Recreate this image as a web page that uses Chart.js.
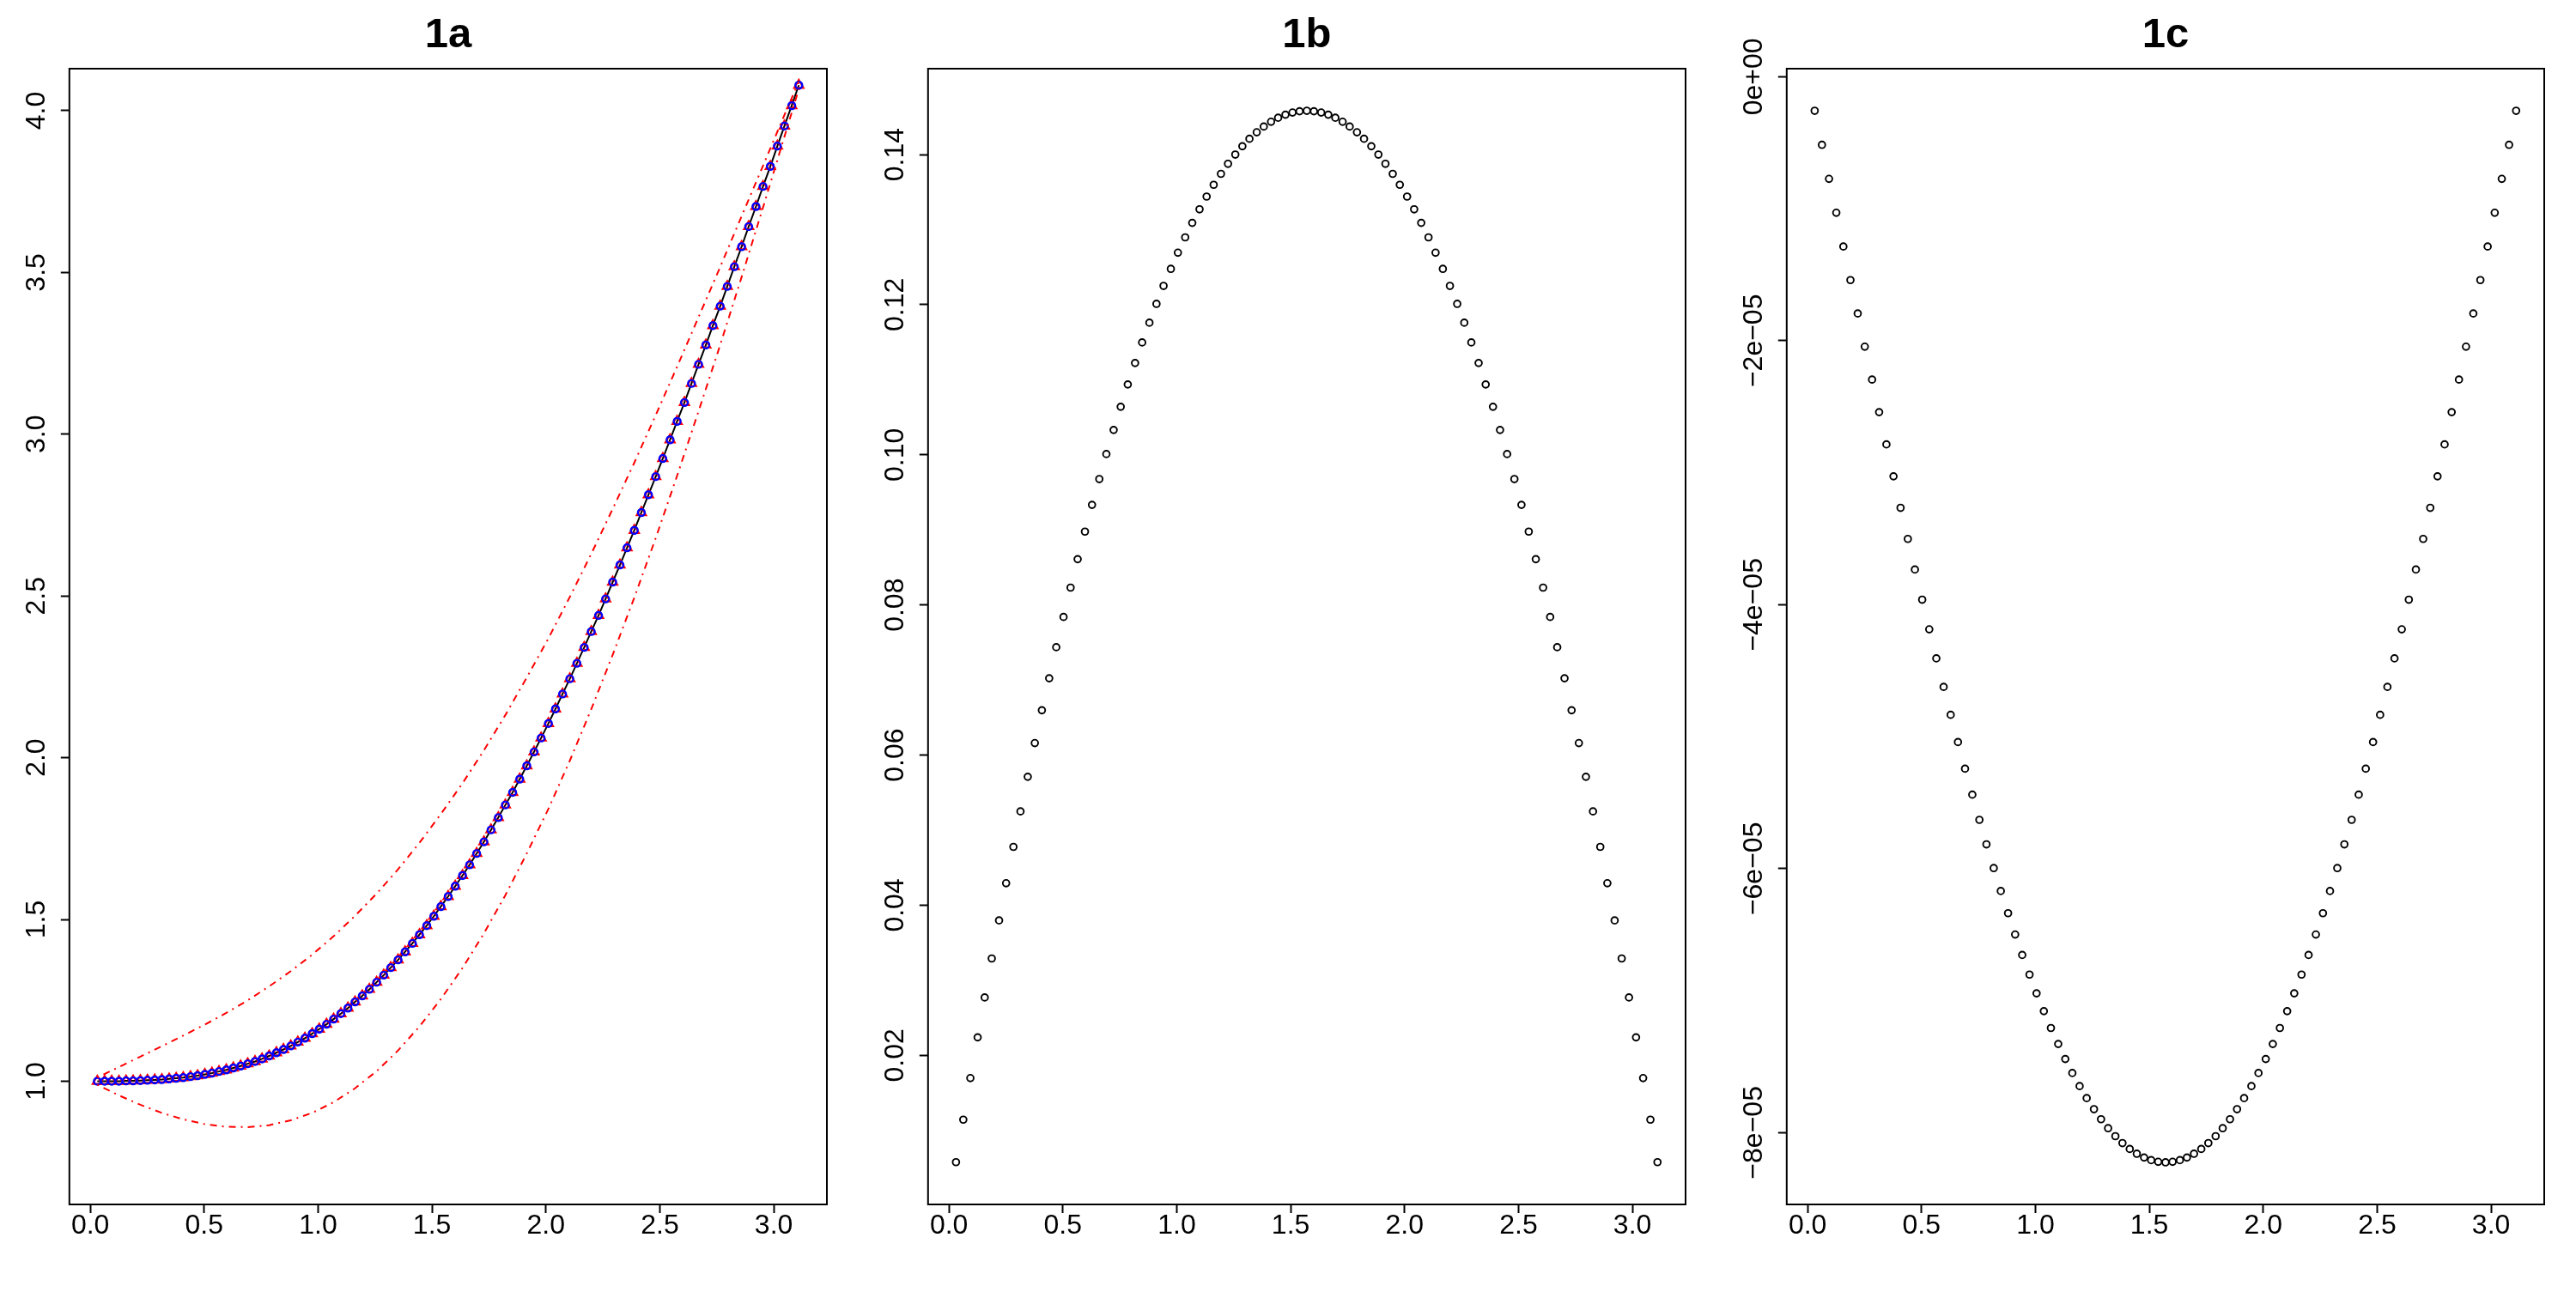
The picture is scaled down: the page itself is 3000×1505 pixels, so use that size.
<!DOCTYPE html>
<html><head><meta charset="utf-8">
<script src="https://cdn.jsdelivr.net/npm/chart.js@4.4.1/dist/chart.umd.min.js"></script>
<style>
html,body{margin:0;padding:0;background:#fff;}
#wrap{position:relative;width:3000px;height:1505px;background:#fff;}
.panel{position:absolute;top:0;width:1000px;height:1505px;}
canvas{display:block;}
</style></head><body>
<div id="wrap">
<div class="panel" style="left:0px"><canvas id="c1a" width="1000" height="1505"></canvas></div>
<div class="panel" style="left:1000px"><canvas id="c1b" width="1000" height="1505"></canvas></div>
<div class="panel" style="left:2000px"><canvas id="c1c" width="1000" height="1505"></canvas></div>
</div>
<script>
// ---------- data ----------
const xValues = [
0.031,0.063,0.094,0.126,0.157,0.188,0.220,0.251,0.283,0.314,
0.346,0.377,0.408,0.440,0.471,0.503,0.534,0.565,0.597,0.628,
0.660,0.691,0.723,0.754,0.785,0.817,0.848,0.880,0.911,0.942,
0.974,1.005,1.037,1.068,1.100,1.131,1.162,1.194,1.225,1.257,
1.288,1.319,1.351,1.382,1.414,1.445,1.477,1.508,1.539,1.571,
1.602,1.634,1.665,1.696,1.728,1.759,1.791,1.822,1.854,1.885,
1.916,1.948,1.979,2.011,2.042,2.073,2.105,2.136,2.168,2.199,
2.231,2.262,2.293,2.325,2.356,2.388,2.419,2.450,2.482,2.513,
2.545,2.576,2.608,2.639,2.670,2.702,2.733,2.765,2.796,2.827,
2.859,2.890,2.922,2.953,2.985,3.016,3.047,3.079,3.110];

// panel 1a: fitted curve (line + markers)
const y1a = [
1.000,1.000,1.000,1.000,1.001,1.001,1.002,1.003,1.004,1.005,
1.007,1.009,1.011,1.014,1.017,1.021,1.025,1.030,1.035,1.041,
1.047,1.054,1.061,1.069,1.078,1.088,1.098,1.109,1.121,1.133,
1.147,1.161,1.176,1.192,1.209,1.226,1.245,1.264,1.284,1.306,
1.328,1.351,1.375,1.400,1.426,1.453,1.481,1.510,1.540,1.571,
1.603,1.636,1.669,1.704,1.740,1.777,1.815,1.854,1.893,1.934,
1.975,2.018,2.061,2.106,2.151,2.197,2.244,2.292,2.341,2.390,
2.440,2.491,2.543,2.596,2.649,2.703,2.758,2.813,2.869,2.925,
2.983,3.040,3.098,3.157,3.216,3.276,3.336,3.396,3.457,3.518,
3.580,3.642,3.704,3.766,3.828,3.891,3.953,4.016,4.079];

// panel 1a: red dot-dash band
const bandX = [0.031,0.126,0.220,0.314,0.408,0.503,0.597,0.691,0.785,0.880,0.974,1.068,1.162,1.257,1.351,1.445,1.539,1.634,1.728,1.822,1.916,2.011,2.105,2.199,2.293,2.388,2.482,2.576,2.670,2.765,2.859,2.953,3.047,3.110];
const bandUpper = [1.011,1.044,1.076,1.108,1.141,1.175,1.211,1.250,1.293,1.340,1.391,1.448,1.511,1.580,1.655,1.737,1.826,1.921,2.023,2.132,2.248,2.369,2.497,2.630,2.769,2.912,3.059,3.209,3.362,3.517,3.674,3.830,3.987,4.090];
const bandLower = [0.989,0.956,0.927,0.902,0.882,0.867,0.859,0.858,0.864,0.879,0.902,0.935,0.978,1.031,1.095,1.169,1.254,1.350,1.457,1.575,1.704,1.842,1.991,2.150,2.318,2.495,2.679,2.872,3.071,3.276,3.486,3.701,3.920,4.067];

// panel 1b
const y1b = [
0.00577,0.01143,0.01697,0.02240,0.02771,0.03290,0.03797,0.04293,0.04777,0.05250,
0.05711,0.06160,0.06597,0.07023,0.07437,0.07840,0.08231,0.08610,0.08977,0.09333,
0.09677,0.10010,0.10331,0.10640,0.10937,0.11223,0.11497,0.11760,0.12011,0.12250,
0.12477,0.12693,0.12897,0.13090,0.13271,0.13440,0.13597,0.13743,0.13877,0.14000,
0.14111,0.14210,0.14297,0.14373,0.14437,0.14490,0.14531,0.14560,0.14577,0.14583,
0.14577,0.14560,0.14531,0.14490,0.14437,0.14373,0.14297,0.14210,0.14111,0.14000,
0.13877,0.13743,0.13597,0.13440,0.13271,0.13090,0.12897,0.12693,0.12477,0.12250,
0.12011,0.11760,0.11497,0.11223,0.10937,0.10640,0.10331,0.10010,0.09677,0.09333,
0.08977,0.08610,0.08231,0.07840,0.07437,0.07023,0.06597,0.06160,0.05711,0.05250,
0.04777,0.04293,0.03797,0.03290,0.02771,0.02240,0.01697,0.01143,0.00577];

// panel 1c
const y1c = [
-0.2584e-5,-0.5165e-5,-0.7740e-5,-1.0309e-5,-1.2867e-5,-1.5412e-5,-1.7942e-5,-2.0455e-5,-2.2947e-5,-2.5417e-5,
-2.7861e-5,-3.0278e-5,-3.2665e-5,-3.5020e-5,-3.7341e-5,-3.9624e-5,-4.1869e-5,-4.4072e-5,-4.6231e-5,-4.8345e-5,
-5.0412e-5,-5.2428e-5,-5.4393e-5,-5.6304e-5,-5.8160e-5,-5.9958e-5,-6.1697e-5,-6.3375e-5,-6.4990e-5,-6.6542e-5,
-6.8027e-5,-6.9446e-5,-7.0796e-5,-7.2076e-5,-7.3285e-5,-7.4422e-5,-7.5485e-5,-7.6474e-5,-7.7387e-5,-7.8224e-5,
-7.8984e-5,-7.9666e-5,-8.0269e-5,-8.0793e-5,-8.1237e-5,-8.1601e-5,-8.1885e-5,-8.2087e-5,-8.2209e-5,-8.2250e-5,
-8.2209e-5,-8.2087e-5,-8.1885e-5,-8.1601e-5,-8.1237e-5,-8.0793e-5,-8.0269e-5,-7.9666e-5,-7.8984e-5,-7.8224e-5,
-7.7387e-5,-7.6474e-5,-7.5485e-5,-7.4422e-5,-7.3285e-5,-7.2076e-5,-7.0796e-5,-6.9446e-5,-6.8027e-5,-6.6542e-5,
-6.4990e-5,-6.3375e-5,-6.1697e-5,-5.9958e-5,-5.8160e-5,-5.6304e-5,-5.4393e-5,-5.2428e-5,-5.0412e-5,-4.8345e-5,
-4.6231e-5,-4.4072e-5,-4.1869e-5,-3.9624e-5,-3.7341e-5,-3.5020e-5,-3.2665e-5,-3.0278e-5,-2.7861e-5,-2.5417e-5,
-2.2947e-5,-2.0455e-5,-1.7942e-5,-1.5412e-5,-1.2867e-5,-1.0309e-5,-0.7740e-5,-0.5165e-5,-0.2584e-5];

// ticks
const xTicks = [0, 0.5, 1, 1.5, 2, 2.5, 3];
const xTickLabels = ['0.0','0.5','1.0','1.5','2.0','2.5','3.0'];
const yTicks1a = [1, 1.5, 2, 2.5, 3, 3.5, 4];
const yTickLabels1a = ['1.0','1.5','2.0','2.5','3.0','3.5','4.0'];
const yTicks1b = [0.02, 0.04, 0.06, 0.08, 0.10, 0.12, 0.14];
const yTickLabels1b = ['0.02','0.04','0.06','0.08','0.10','0.12','0.14'];
const yTicks1c = [-8e-5, -6e-5, -4e-5, -2e-5, 0];
const yTickLabels1c = ['\u22128e\u221205','\u22126e\u221205','\u22124e\u221205','\u22122e\u221205','0e+00'];

// ---------- chart construction ----------
const FONT = '"Liberation Sans", Arial, Helvetica, sans-serif';
const TICK_SIZE = 32;
Chart.defaults.font.family = FONT;
Chart.defaults.color = '#000';

const zip = (xs, ys) => xs.map((x, i) => ({x: x, y: ys[i]}));

const boxPlugin = {
  id: 'box',
  afterDatasetsDraw(chart) {
    const {ctx, chartArea: a} = chart;
    ctx.save();
    ctx.strokeStyle = '#000';
    ctx.lineWidth = 2;
    ctx.strokeRect(a.left, a.top, a.right - a.left, a.bottom - a.top);
    ctx.restore();
  }
};

function yPadding(labels) {
  const c = document.createElement('canvas').getContext('2d');
  c.font = TICK_SIZE + 'px ' + FONT;
  let w = 0;
  labels.forEach(l => { w = Math.max(w, c.measureText(l).width); });
  return 80.8 - 10 - 43.5 - w / 2;
}

function makeChart(id, title, datasets, yMin, yMax, yTicks, yLabels) {
  return new Chart(document.getElementById(id), {
    type: 'scatter',
    data: { datasets: datasets },
    options: {
      responsive: false,
      devicePixelRatio: 1,
      animation: false,
      events: [],
      layout: { padding: { left: 0, right: 37, top: 0, bottom: 0 } },
      plugins: {
        legend: { display: false },
        tooltip: { enabled: false },
        title: {
          display: true, text: title, fullSize: false, color: '#000',
          font: { size: 49, weight: 'bold', family: FONT, lineHeight: 1.2 },
          padding: { top: 11.6, bottom: 9.6 }
        }
      },
      scales: {
        x: {
          type: 'linear', position: 'bottom', min: -0.0917, max: 3.2333, bounds: 'data',
          afterBuildTicks: s => { s.ticks = xTicks.map(v => ({value: v})); },
          afterFit: s => { s.height = 102; },
          border: { display: false },
          grid: { display: true, drawOnChartArea: false, drawTicks: true, tickLength: 10, tickWidth: 2, tickColor: '#000' },
          ticks: {
            autoSkip: false, maxRotation: 0, minRotation: 0, padding: -4.2, color: '#000',
            font: { size: TICK_SIZE, family: FONT },
            callback: (v, i) => xTickLabels[i]
          }
        },
        y: {
          type: 'linear', position: 'left', min: yMin, max: yMax, bounds: 'data',
          afterBuildTicks: s => { s.ticks = yTicks.map(v => ({value: v})); },
          afterFit: s => { s.width = 80.8; },
          border: { display: false },
          grid: { display: true, drawOnChartArea: false, drawTicks: true, tickLength: 10, tickWidth: 2, tickColor: '#000' },
          ticks: {
            autoSkip: false, minRotation: 90, maxRotation: 90, crossAlign: 'center',
            padding: yPadding(yLabels), color: '#000',
            font: { size: TICK_SIZE, family: FONT },
            callback: (v, i) => yLabels[i]
          }
        }
      }
    },
    plugins: [boxPlugin]
  });
}

const dotdash = [2, 6, 8, 6];

makeChart('c1a', '1a', [
  { label: 'upper band', data: zip(bandX, bandUpper), showLine: true, borderColor: '#ff0000', borderWidth: 2,
    borderDash: dotdash, pointRadius: 0, fill: false, order: 0 },
  { label: 'lower band', data: zip(bandX, bandLower), showLine: true, borderColor: '#ff0000', borderWidth: 2,
    borderDash: dotdash, pointRadius: 0, fill: false, order: 0 },
  { label: 'circles', data: zip(xValues, y1a), showLine: false, pointStyle: 'circle', pointRadius: 4.0,
    pointBorderColor: '#0000ff', pointBorderWidth: 2.4, pointBackgroundColor: 'rgba(0,0,0,0)', order: 1 },
  { label: 'triangles', data: zip(xValues, y1a), showLine: false, pointStyle: 'triangle', pointRadius: 6.2,
    pointBorderColor: '#ff0000', pointBorderWidth: 2.2, pointBackgroundColor: 'rgba(0,0,0,0)', order: 2 },
  { label: 'curve', data: zip(xValues, y1a), showLine: true, borderColor: '#000000', borderWidth: 2,
    pointRadius: 0, fill: false, order: 3 }
], 0.619, 4.130, yTicks1a, yTickLabels1a);

makeChart('c1b', '1b', [
  { label: '1b', data: zip(xValues, y1b), showLine: false, pointStyle: 'circle', pointRadius: 3.9,
    pointBorderColor: '#000000', pointBorderWidth: 1.9, pointBackgroundColor: 'rgba(0,0,0,0)' }
], 0.000137, 0.15144, yTicks1b, yTickLabels1b);

makeChart('c1c', '1c', [
  { label: '1c', data: zip(xValues, y1c), showLine: false, pointStyle: 'circle', pointRadius: 3.9,
    pointBorderColor: '#000000', pointBorderWidth: 1.9, pointBackgroundColor: 'rgba(0,0,0,0)' }
], -8.544e-5, 6.05e-7, yTicks1c, yTickLabels1c);
</script>
</body></html>
